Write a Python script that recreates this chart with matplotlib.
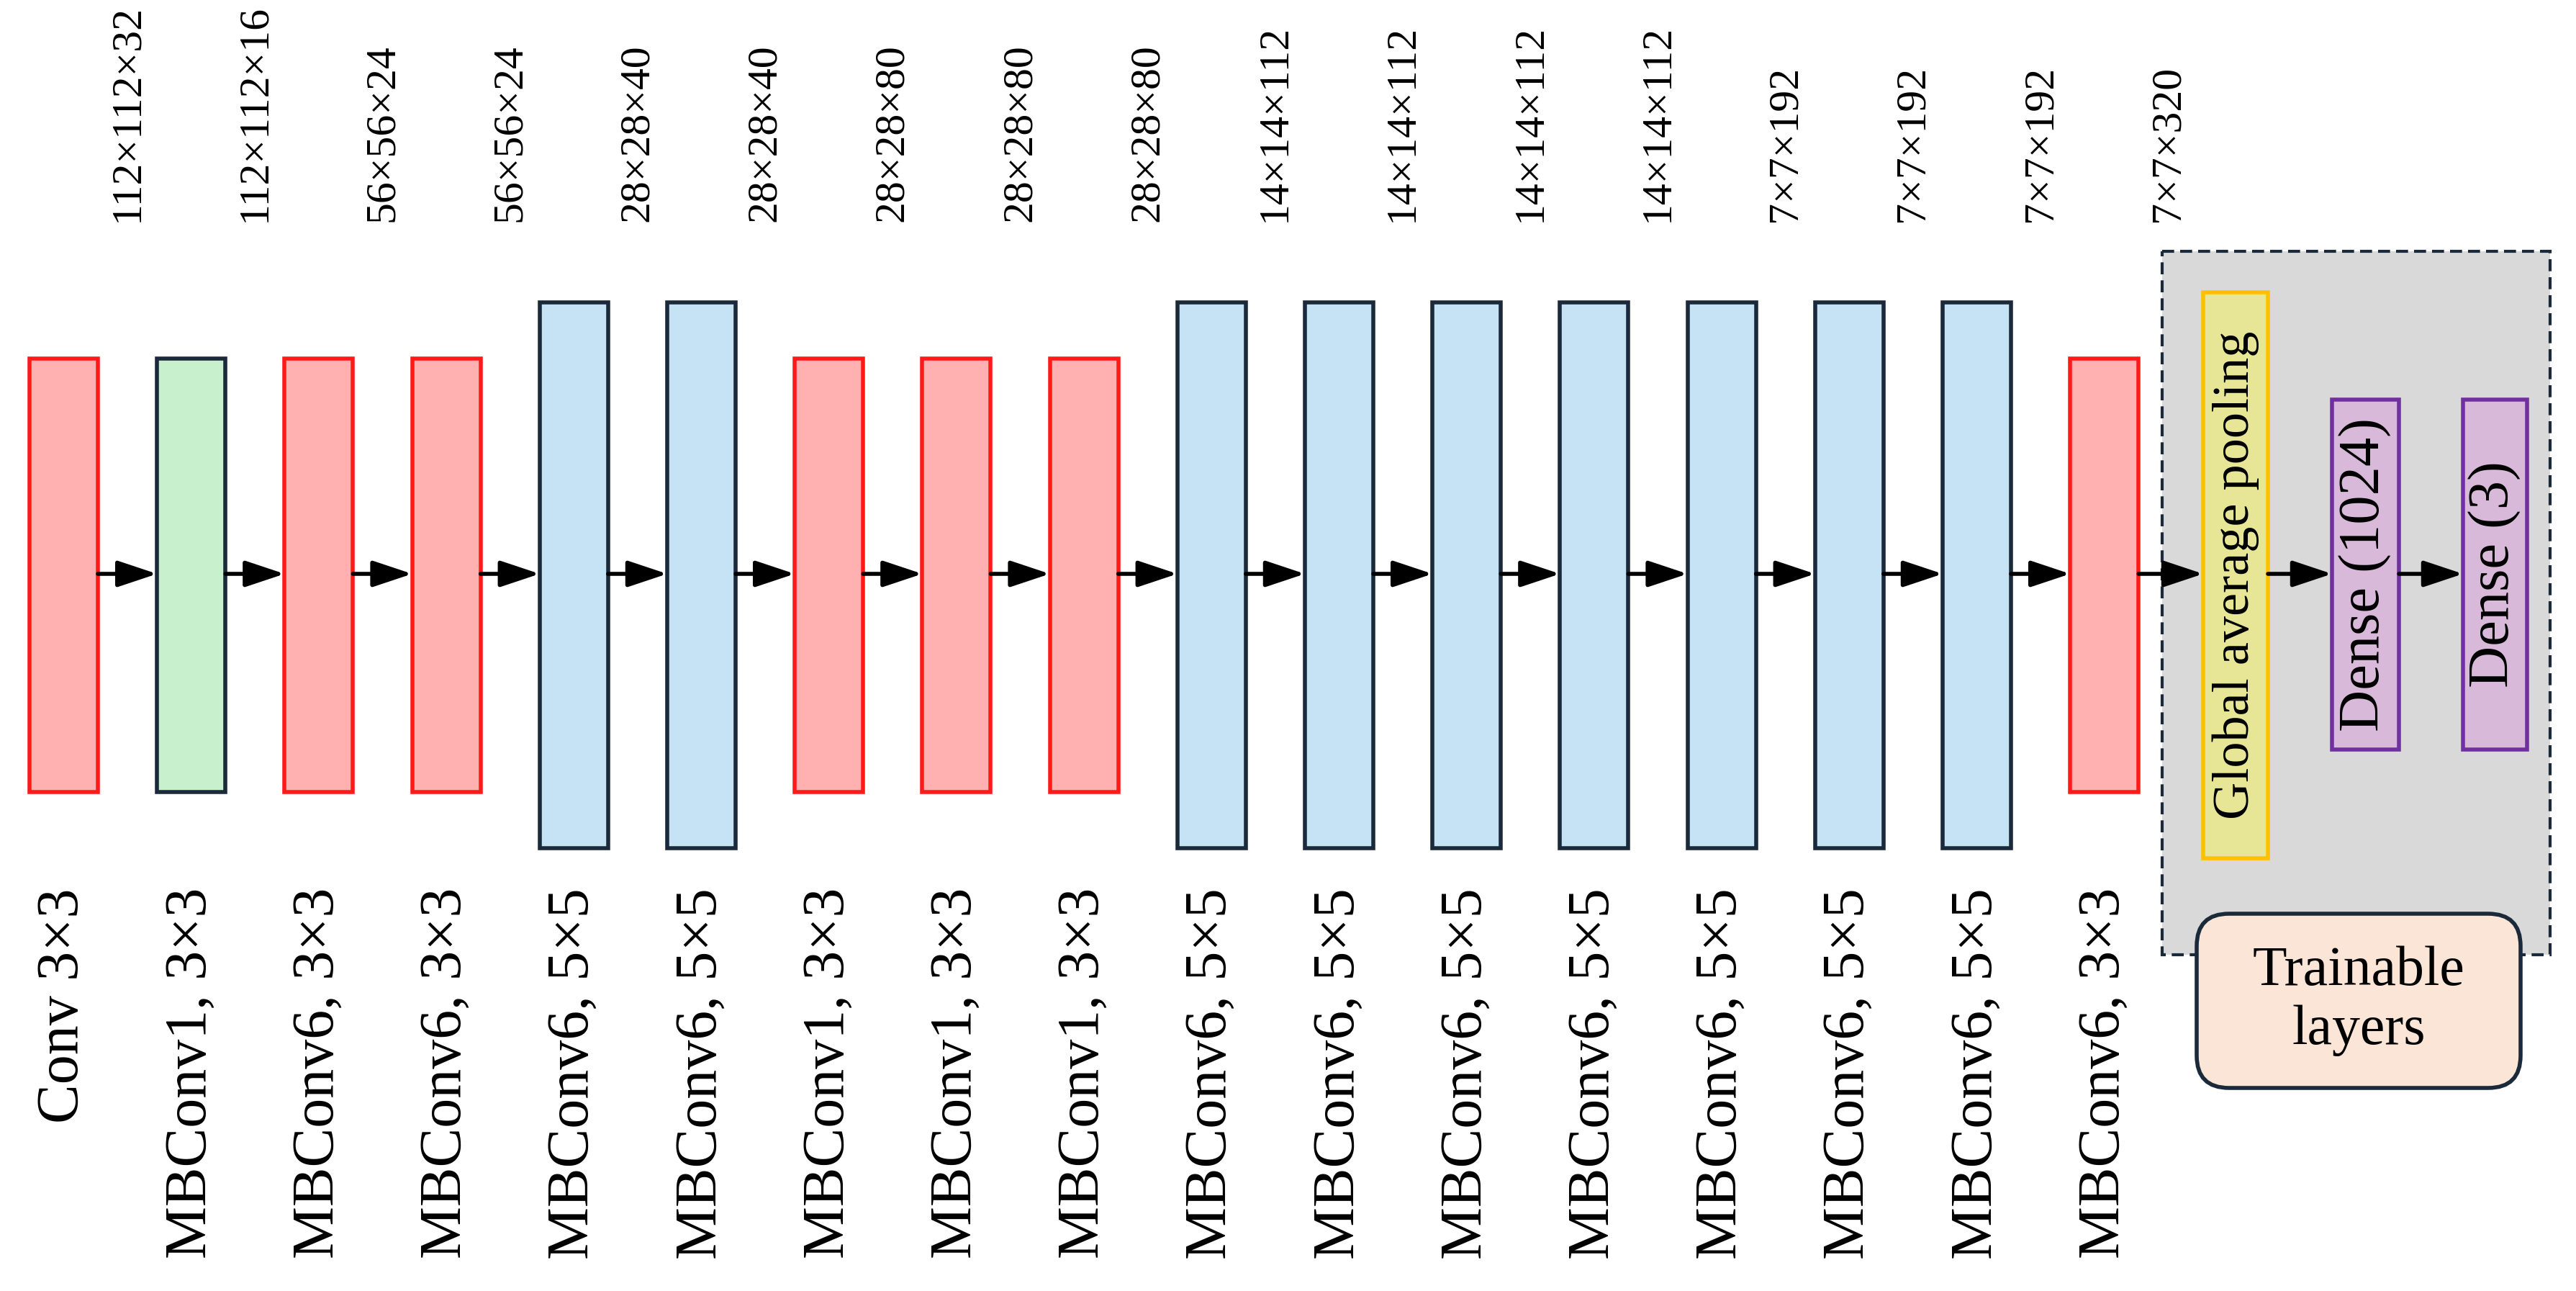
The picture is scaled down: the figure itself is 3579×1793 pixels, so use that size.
import matplotlib
matplotlib.use("Agg")
import matplotlib.pyplot as plt
from matplotlib.patches import Rectangle, FancyBboxPatch

layers = ["Conv 3×3", "MBConv1, 3×3", "MBConv6, 3×3", "MBConv6, 3×3",
          "MBConv6, 5×5", "MBConv6, 5×5", "MBConv1, 3×3", "MBConv1, 3×3",
          "MBConv1, 3×3", "MBConv6, 5×5", "MBConv6, 5×5", "MBConv6, 5×5",
          "MBConv6, 5×5", "MBConv6, 5×5", "MBConv6, 5×5", "MBConv6, 5×5",
          "MBConv6, 3×3"]
kinds = ["R", "G", "R", "R", "B", "B", "R", "R", "R", "B", "B", "B", "B", "B", "B", "B", "R"]
shapes = ["112×112×32", "112×112×16", "56×56×24", "56×56×24", "28×28×40", "28×28×40",
          "28×28×80", "28×28×80", "28×28×80", "14×14×112", "14×14×112", "14×14×112",
          "14×14×112", "7×7×192", "7×7×192", "7×7×192", "7×7×320"]
head = ["Global average pooling", "Dense (1024)", "Dense (3)"]

styles = {"R": ("#ffb0b0", "#ff1a1a"), "G": ("#c8f0cc", "#1a2a3a"), "B": ("#c5e3f5", "#1a2a3a")}
FONT = ["Liberation Serif", "DejaVu Serif"]

fig = plt.figure(figsize=(35.79, 17.93), dpi=100)
ax = fig.add_axes([0, 0, 1, 1])
ax.set_xlim(0, 3579)
ax.set_ylim(1793, 0)
ax.axis("off")

x0, pitch, w = 41, 177.2, 95
ay = 797

ax.add_patch(Rectangle((3004, 349), 539, 977, facecolor="#d9d9d9", edgecolor="#1a2a3a",
                       lw=3, ls=(0, (4, 2)), zorder=1))

for i, (name, k, shp) in enumerate(zip(layers, kinds, shapes)):
    x = x0 + i * pitch
    if k == "B":
        y1, y2 = 420, 1178
    else:
        y1, y2 = 498, 1100
    fc, ec = styles[k]
    ax.add_patch(Rectangle((x, y1), w, y2 - y1, facecolor=fc, edgecolor=ec, lw=4, zorder=3))
    ax.text(x + w / 2, 1233, name, rotation=90, ha="center", va="top",
            fontsize=59, family=FONT, zorder=4)
    ax.text(x + w + (pitch - w) / 2, 308, shp, rotation=90, ha="center", va="bottom",
            fontsize=43, family=FONT, zorder=4)

hb = [(3061, 406, 90, 786, "#e6e696", "#ffc000", 52),
      (3240, 555, 93, 486, "#d9b9d9", "#7030a0", 58),
      (3422, 555, 89, 486, "#d9b9d9", "#7030a0", 58)]
for (x, y, ww, hh, fc, ec, fs), t in zip(hb, head):
    ax.add_patch(Rectangle((x, y), ww, hh, facecolor=fc, edgecolor=ec, lw=4, zorder=3))
    ax.text(x + ww / 2, y + hh / 2, t, rotation=90, ha="center", va="center",
            fontsize=fs, family=FONT, zorder=4)

rights = [x0 + i * pitch + w for i in range(len(layers))] + [3151, 3333]
lefts = [x0 + i * pitch for i in range(1, len(layers))] + [3061, 3240, 3422]
for r, l in zip(rights, lefts):
    ax.annotate("", xy=(l, ay), xytext=(r, ay),
                arrowprops=dict(arrowstyle="-|>,head_length=1.2,head_width=0.4",
                                mutation_scale=28, color="black", lw=4,
                                shrinkA=0, shrinkB=0),
                zorder=5)

ax.add_patch(FancyBboxPatch((3052, 1269), 450, 242, boxstyle="round,pad=0,rounding_size=45",
                            facecolor="#fbe5d6", edgecolor="#1a2a3a", lw=4, zorder=3))
ax.text(3277, 1390, "Trainable\nlayers", ha="center", va="center", fontsize=56,
        family=FONT, linespacing=1.2, zorder=4)

fig.savefig("out.png", dpi=100)
